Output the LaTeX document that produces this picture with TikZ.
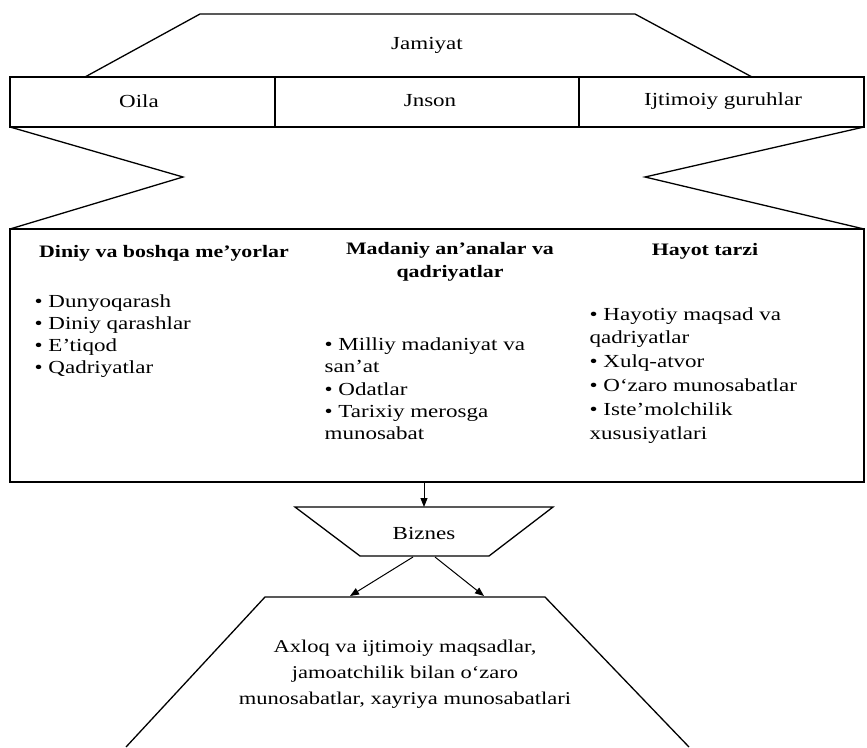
\documentclass[tikz,border=0pt]{standalone}
\usepackage{fontspec}
\setmainfont[FakeStretch=1.25]{Liberation Serif}
\usetikzlibrary{arrows.meta}
\newcommand\fsz{\fontsize{18.4}{22}\selectfont}
\begin{document}
\begin{tikzpicture}[x=1pt,y=-1pt, line width=1.3pt,
  shp/.style={draw=black, line join=miter},
  lbl/.style={inner sep=0pt, font=\fsz},
  itm/.style={inner sep=0pt, anchor=base west, font=\fsz},
  hdr/.style={inner sep=0pt, font=\fontsize{17.5}{23}\selectfont\bfseries, align=center},
  arr/.style={-{Triangle[length=9pt,width=7pt]}, line width=1pt}]
\useasboundingbox (0,0) rectangle (867,747);
\fill[white] (0,0) rectangle (867,747);
% top trapezoid
\draw[shp] (85,77) -- (200,14) -- (635,14) -- (752,77);
\node[lbl] (jam) at (427,45) {Jamiyat};
% row of three boxes
\draw[shp] (10,77) rectangle (864,127);
\draw[shp] (275,77) -- (275,127);
\draw[shp] (579,77) -- (579,127);
\node[lbl] (oila) at (139,101) {Oila};
\node[lbl] (inson) at (430,101) {Jnson};
\node[lbl] (ijt) at (723,101) {Ijtimoiy guruhlar};
% bow-tie sides
\draw[shp] (10,127) -- (183,177) -- (10,229);
\draw[shp] (864,127) -- (645,177) -- (864,229);
% big box
\draw[shp] (10,229) rectangle (864,482);
\node[hdr] (h1) at (164,253) {Diniy va boshqa me'yorlar};
\node[hdr] (h2) at (450,262) {Madaniy an’analar va\\qadriyatlar};
\node[hdr] (h3) at (705,251) {Hayot tarzi};
\node[itm] (a1) at (34,307) {• Dunyoqarash};
\node[itm] (a2) at (34,329) {• Diniy qarashlar};
\node[itm] (a3) at (34,351) {• E’tiqod};
\node[itm] (a4) at (34,373) {• Qadriyatlar};
\node[itm] (b1) at (324,350) {• Milliy madaniyat va};
\node[itm] (b2) at (324,372) {san'at};
\node[itm] (b3) at (324,395) {• Odatlar};
\node[itm] (b4) at (324,417) {• Tarixiy merosga};
\node[itm] (b5) at (324,439) {munosabat};
\node[itm] (c1) at (589,320) {• Hayotiy maqsad va};
\node[itm] (c2) at (589,343) {qadriyatlar};
\node[itm] (c3) at (589,367) {• Xulq-atvor};
\node[itm] (c4) at (589,391) {• O‘zaro munosabatlar};
\node[itm] (c5) at (589,415) {• Iste’molchilik};
\node[itm] (c6) at (589,439) {xususiyatlari};
% Biznes trapezoid
\draw[shp] (295,507) -- (553,507) -- (489,556) -- (360,556) -- cycle;
\node[lbl] (biz) at (424,533) {Biznes};
\coordinate (boxbot) at (424,482);
\coordinate (biztop) at (424,507);
\draw[arr] (boxbot) -- (biztop);
% bottom trapezoid
\draw[shp] (126,747) -- (265,597) -- (545,597) -- (689,747);
\node[lbl, align=center, font=\fontsize{18}{26}\selectfont] (ax) at (405,674)
  {Axloq va ijtimoiy maqsadlar,\\jamoatchilik bilan o‘zaro\\munosabatlar, xayriya munosabatlari};
\coordinate (bzl) at (413,557);
\coordinate (bzr) at (435,557);
\coordinate (axl) at (350,596);
\coordinate (axr) at (484,596);
\draw[arr] (bzl) -- (axl);
\draw[arr] (bzr) -- (axr);
\end{tikzpicture}
\end{document}
